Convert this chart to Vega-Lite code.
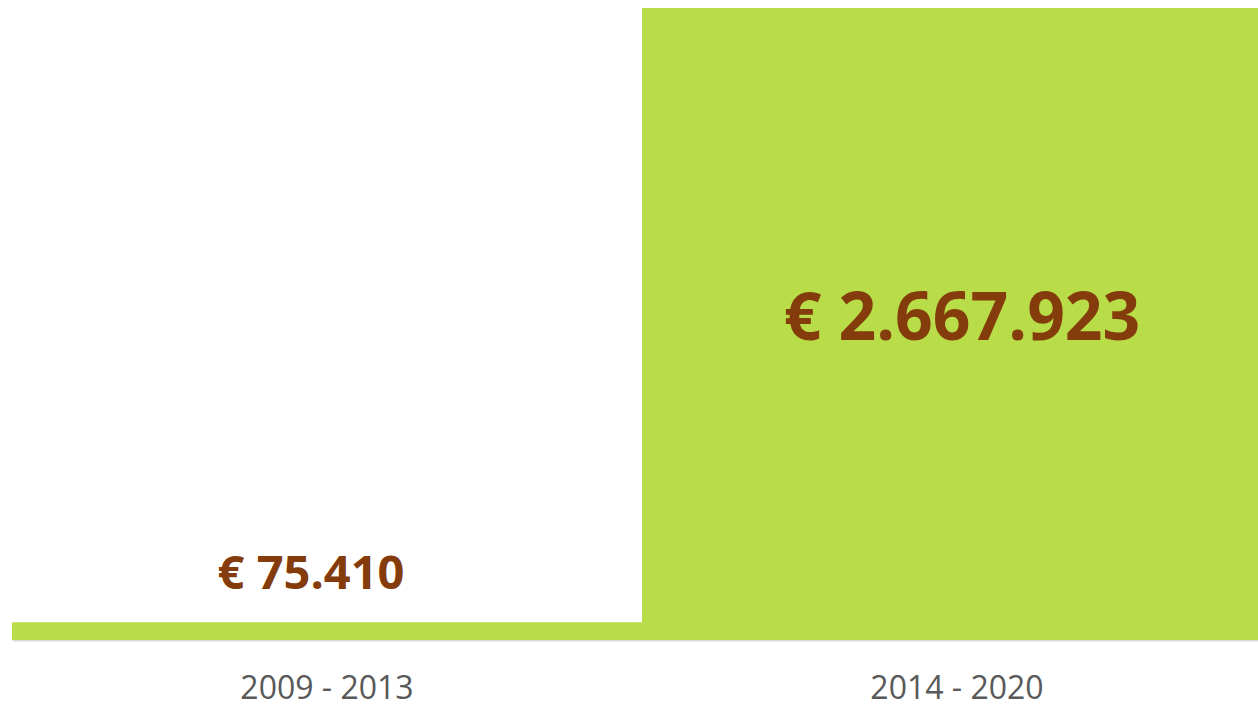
{
  "$schema": "https://vega.github.io/schema/vega-lite/v6.json",
  "autosize": "none",
  "width": 1246,
  "height": 632,
  "padding": {"left": 12, "top": 8, "right": 0, "bottom": 67},
  "background": "white",
  "config": {"view": {"stroke": null}},
  "data": {"values": [
    {"period": "2009 - 2013", "amount": 75410, "label": "€ 75.410"},
    {"period": "2014 - 2020", "amount": 2667923, "label": "€ 2.667.923"}
  ]},
  "encoding": {
    "x": {
      "field": "period", "type": "nominal", "sort": null,
      "scale": {"range": [0, 1260], "paddingInner": 0, "paddingOuter": 0},
      "axis": {
        "title": null, "ticks": false, "labelAngle": 0,
        "domainColor": "#d9d9d9", "domainWidth": 2,
        "labelFont": "Open Sans", "labelFontSize": 32, "labelColor": "#595959",
        "labelBaseline": "middle", "labelPadding": 48
      }
    }
  },
  "layer": [
    {
      "mark": {"type": "bar", "color": "#B8DD48", "clip": true},
      "encoding": {
        "y": {"field": "amount", "type": "quantitative", "scale": {"domain": [0, 2667923], "nice": false, "zero": true}, "axis": null}
      }
    },
    {
      "transform": [{"filter": "datum.period === '2009 - 2013'"}],
      "mark": {"type": "text", "font": "Open Sans", "fontWeight": "bold", "fontSize": 47, "color": "#843C0C", "baseline": "alphabetic", "dy": -33, "dx": -16},
      "encoding": {
        "y": {"field": "amount", "type": "quantitative"},
        "text": {"field": "label"}
      }
    },
    {
      "transform": [{"filter": "datum.period === '2014 - 2020'"}],
      "mark": {"type": "text", "font": "Open Sans", "fontWeight": "bold", "fontSize": 66, "color": "#843C0C", "baseline": "alphabetic", "dy": 332, "dx": 5},
      "encoding": {
        "y": {"field": "amount", "type": "quantitative"},
        "text": {"field": "label"}
      }
    }
  ]
}
